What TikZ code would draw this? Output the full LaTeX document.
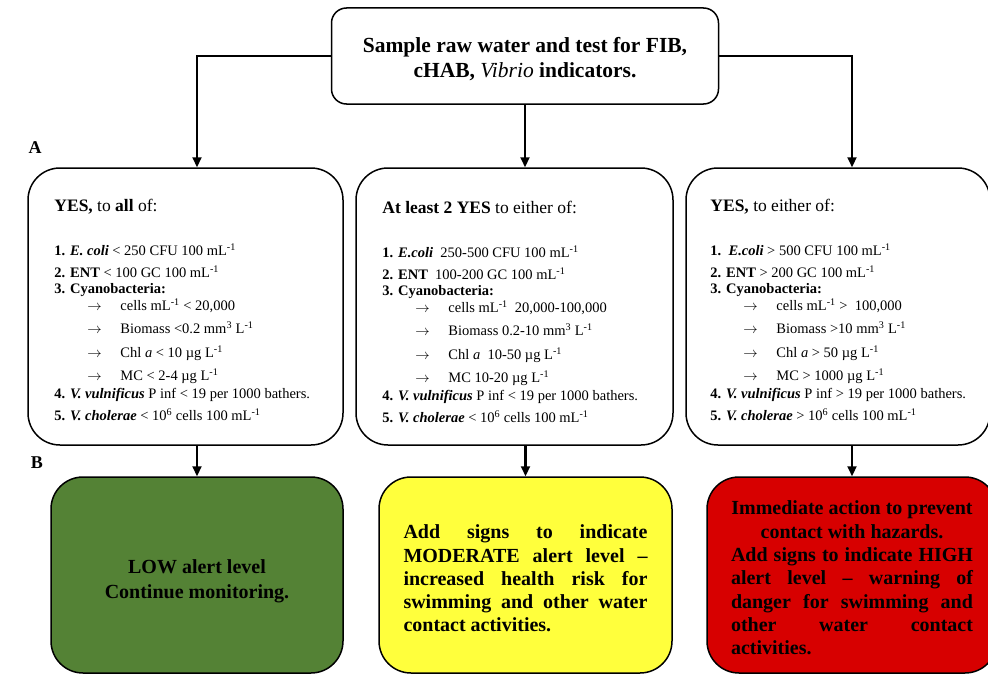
\documentclass[tikz,border=0pt]{standalone}
\usepackage{fontspec}
\setmainfont{Liberation Serif}
\usetikzlibrary{arrows.meta}

\definecolor{lowgreen}{RGB}{84,130,53}
\definecolor{modyellow}{RGB}{255,255,60}
\definecolor{highred}{RGB}{215,0,0}

\newcommand{\cyarrow}{\hspace*{33pt}\makebox[33pt][l]{$\rightarrow$}}
\newcommand{\inv}{\textsuperscript{-1}}
\newcommand{\critfont}{\fontsize{14.5}{22}\selectfont\setlength{\lineskiplimit}{-30pt}}
\newcommand{\alertfont}{\bfseries\fontsize{20}{23.3}\selectfont\tolerance 9999\relax\hyphenpenalty 10000\relax}
\newcommand{\centred}[1]{\makebox[\linewidth]{#1}\par}

\tikzset{
	box/.style={draw, line width=1.5pt, rounded corners=15pt},
	critbox/.style={box, rounded corners=32pt, minimum width=#1, minimum height=277pt},
	crittext/.style={anchor=north west, inner sep=0pt, align=left, font=\critfont},
	alertbox/.style={box, rounded corners=32pt, minimum width=#1, minimum height=196pt, font=\alertfont},
	conn/.style={line width=2.2pt, -{Triangle[length=10pt,width=9pt]}},
	part/.style={font=\bfseries\fontsize{18}{20}\selectfont}
}

\begin{document}
\begin{tikzpicture}[x=1pt, y=-1pt]
	\useasboundingbox (0,0) rectangle (988,677);

	%start
	\node[box, minimum width=387pt, minimum height=96pt, align=center,
		font=\bfseries\fontsize{21.5}{25}\selectfont] (sample) at (525,56)
		{\rule{0pt}{21pt}Sample raw water and test for FIB,\\cHAB, {\mdseries\itshape Vibrio} indicators.};

	%etykiety
	\node[part] (labA) at (35,148) {A};
	\node[part] (labB) at (37,463) {B};

	%kryteria
	\node[critbox=315pt] (lowcrit) at (185.5,306.5) {};
	\node[critbox=317pt] (midcrit) at (514.5,306.5) {};
	\node[critbox=304pt] (highcrit) at (838,306.5) {};

	\node[crittext] (lowtext) at ([shift={(27,32)}]lowcrit.north west)
		{{\fontsize{17.5}{20}\selectfont\textbf{YES,} to \textbf{all} of:}\\[22pt]
		\textbf{1.} \textbf{\textit{E. coli}} < 250 CFU 100 mL\inv\\
		\textbf{2. ENT} < 100 GC 100 mL\inv\\[-6pt]
		\textbf{3. Cyanobacteria:}\\[-5pt]
		\cyarrow cells mL\inv{} < 20,000\\[1pt]
		\cyarrow Biomass <0.2 mm\textsuperscript{3} L\inv\\[2pt]
		\cyarrow Chl \textit{a} <  10 µg L\inv\\[1pt]
		\cyarrow MC < 2-4 µg L\inv\\[-4pt]
		\textbf{4. \textit{V. vulnificus}} P inf < 19 per 1000 bathers.\\
		\textbf{5. \textit{V. cholerae}} < 10\textsuperscript{6} cells 100 mL\inv};

	\node[crittext] (midtext) at ([shift={(27,34)}]midcrit.north west)
		{{\fontsize{17.5}{20}\selectfont\textbf{At least 2 YES} to either of:}\\[22pt]
		\textbf{1.} \textbf{\textit{E.coli}}\ \ 250-500 CFU 100 mL\inv\\
		\textbf{2. ENT}\ \ 100-200 GC 100 mL\inv\\[-6pt]
		\textbf{3. Cyanobacteria:}\\[-5pt]
		\cyarrow cells mL\inv\ \ 20,000-100,000\\[1pt]
		\cyarrow Biomass 0.2-10 mm\textsuperscript{3} L\inv\\[2pt]
		\cyarrow Chl \textit{a}\ \ 10-50 µg L\inv\\[1pt]
		\cyarrow MC 10-20 µg L\inv\\[-4pt]
		\textbf{4. \textit{V. vulnificus}} P inf < 19 per 1000 bathers.\\
		\textbf{5. \textit{V. cholerae}} < 10\textsuperscript{6} cells 100 mL\inv};

	\node[crittext] (hightext) at ([shift={(25,32)}]highcrit.north west)
		{{\fontsize{17.5}{20}\selectfont\textbf{YES,} to either of:}\\[22pt]
		\textbf{1.}\ \ \textbf{\textit{E.coli}} > 500 CFU 100 mL\inv\\
		\textbf{2. ENT} > 200 GC 100 mL\inv\\[-6pt]
		\textbf{3. Cyanobacteria:}\\[-5pt]
		\cyarrow cells mL\inv{} >\ \ 100,000\\[1pt]
		\cyarrow Biomass >10 mm\textsuperscript{3} L\inv\\[2pt]
		\cyarrow Chl \textit{a} > 50 µg L\inv\\[1pt]
		\cyarrow MC > 1000 µg L\inv\\[-4pt]
		\textbf{4. \textit{V. vulnificus}} P inf > 19 per 1000 bathers.\\
		\textbf{5. \textit{V. cholerae}} > 10\textsuperscript{6} cells 100 mL\inv};

	%poziomy alarmu
	\node[alertbox=292pt, fill=lowgreen, align=center,
		font=\bfseries\fontsize{20}{25}\selectfont] (low) at (197,575)
		{\rule{0pt}{26pt}LOW alert level\\Continue monitoring.};
	\node[alertbox=293pt, fill=modyellow, text width=244pt, align=justify] (moderate) at (525.5,575)
		{\rule{0pt}{21pt}Add signs to indicate MODERATE alert level – increased health risk for
		swimming and other water contact activities.};
	\node[alertbox=290pt, fill=highred, text width=242pt, align=justify] (high) at (852,575)
		{\centred{\rule{0pt}{20pt}Immediate action to prevent}\centred{contact with hazards.}%
		Add signs to indicate HIGH\linebreak alert level – warning of\linebreak danger for swimming and\linebreak
		other water contact\linebreak activities.};

	%strzalki
	\draw[conn] (sample.west) -| (low.north |- lowcrit.north);
	\draw[conn] (sample.south) -- (sample.south |- midcrit.north);
	\draw[conn] (sample.east) -| (high.north |- highcrit.north);
	\foreach \c/\a in {lowcrit/low, midcrit/moderate, highcrit/high}
		\draw[conn] (\a.north |- \c.south) -- (\a.north);
\end{tikzpicture}
\end{document}
